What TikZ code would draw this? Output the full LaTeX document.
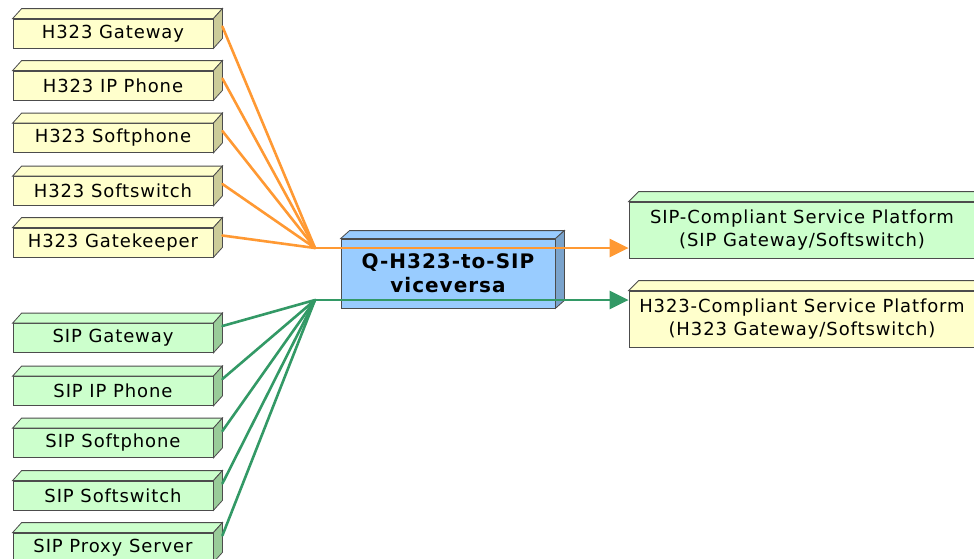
\documentclass[tikz,border=0pt]{standalone}
\usepackage{fontspec}
\setmainfont[LetterSpace=5]{DejaVu Sans}
\usetikzlibrary{arrows.meta, positioning, calc}

\definecolor{ylwface}{HTML}{FFFFCC}
\definecolor{ylwside}{HTML}{CCCC99}
\definecolor{grnface}{HTML}{CCFFCC}
\definecolor{grnside}{HTML}{99CC99}
\definecolor{bluface}{HTML}{99CCFF}
\definecolor{bluside}{HTML}{7AA3CC}
\definecolor{h323line}{HTML}{FF9933}
\definecolor{sipline}{HTML}{339966}

% top and side faces of a box node: node, depth, front colour, side colour
\newcommand{\boxfaces}[4]{%
  \draw [edgeline, fill=#3] (#1.north west) -- ++#2 -- ($(#1.north east)+#2$) -- (#1.north east) -- cycle;
  \draw [edgeline, fill=#4] (#1.north east) -- ++#2 -- ($(#1.south east)+#2$) -- (#1.south east) -- cycle;
}

\begin{document}
\begin{tikzpicture}[x=1pt, y=-1pt,
    edgeline/.style={draw=black!70, line width=0.8pt},
    frontbox/.style={edgeline, inner sep=0pt, align=center, font=\fontsize{18}{23}\selectfont},
    endbox/.style={frontbox, minimum width=200pt, minimum height=29pt},
    platbox/.style={frontbox, minimum width=346pt, minimum height=56pt},
    h323link/.style={h323line, line width=2.6pt, line cap=round, line join=round},
    siplink/.style={sipline, line width=2.6pt, line cap=round, line join=round}]

    \useasboundingbox (0,0) rectangle (974,558);
    \clip (0,0) rectangle (974,558);

    % H323 end points (left, top)
    \node [endbox, fill=ylwface] (h323gw)  at (113,33.5)  {H323 Gateway};
    \node [endbox, fill=ylwface] (h323ip)  at (113,85.5)  {H323 IP Phone};
    \node [endbox, fill=ylwface] (h323sp)  at (113,138)   {H323 Softphone};
    \node [endbox, fill=ylwface] (h323ss)  at (113,191)   {H323 Softswitch};
    \node [endbox, fill=ylwface] (h323gk)  at (113,242.5) {H323 Gatekeeper};

    % SIP end points (left, bottom)
    \node [endbox, fill=grnface] (sipgw)   at (113,338)   {SIP Gateway};
    \node [endbox, fill=grnface] (sipip)   at (113,391)   {SIP IP Phone};
    \node [endbox, fill=grnface] (sipsp)   at (113,443)   {SIP Softphone};
    \node [endbox, fill=grnface] (sipss)   at (113,495.5) {SIP Softswitch};
    \node [endbox, fill=grnface] (sipps)   at (113,547.5) {SIP Proxy Server};

    \boxfaces{h323gw}{(9,-10)}{ylwface}{ylwside}
    \boxfaces{h323ip}{(9,-10)}{ylwface}{ylwside}
    \boxfaces{h323sp}{(9,-10)}{ylwface}{ylwside}
    \boxfaces{h323ss}{(9,-10)}{ylwface}{ylwside}
    \boxfaces{h323gk}{(9,-10)}{ylwface}{ylwside}
    \boxfaces{sipgw}{(9,-10)}{grnface}{grnside}
    \boxfaces{sipip}{(9,-10)}{grnface}{grnside}
    \boxfaces{sipsp}{(9,-10)}{grnface}{grnside}
    \boxfaces{sipss}{(9,-10)}{grnface}{grnside}
    \boxfaces{sipps}{(9,-10)}{grnface}{grnside}

    % Converter in the middle
    \node [frontbox, fill=bluface, minimum width=214pt, minimum height=69pt,
           font=\fontsize{20}{24}\selectfont\bfseries] (qconv) at (448,273.5) {Q-H323-to-SIP\\viceversa};
    \boxfaces{qconv}{(9,-8)}{bluface}{bluside}

    % Service platforms (right)
    \node [platbox, fill=grnface] (sipplat)  at (802,230) {SIP-Compliant Service Platform\\(SIP Gateway/Softswitch)};
    \node [platbox, fill=ylwface] (h323plat) at (802,319) {H323-Compliant Service Platform\\(H323 Gateway/Softswitch)};
    \boxfaces{sipplat}{(10,-10)}{grnface}{grnside}
    \boxfaces{h323plat}{(10,-10)}{ylwface}{ylwside}

    % Where the links meet
    \coordinate (h323join) at (315,248);
    \coordinate (sipjoin)  at (315,300);

    \draw [h323link] ([shift={(9,-7)}]h323gw.east) -- (h323join);
    \draw [h323link] ([shift={(9,-7)}]h323ip.east) -- (h323join);
    \draw [h323link] ([shift={(9,-7)}]h323sp.east) -- (h323join);
    \draw [h323link] ([shift={(9,-7)}]h323ss.east) -- (h323join);
    \draw [h323link] ([shift={(9,-7)}]h323gk.east) -- (h323join);

    \draw [siplink] ([shift={(9,-12)}]sipgw.east) -- (sipjoin);
    \draw [siplink] ([shift={(9,-12)}]sipip.east) -- (sipjoin);
    \draw [siplink] ([shift={(9,-12)}]sipsp.east) -- (sipjoin);
    \draw [siplink] ([shift={(9,-12)}]sipss.east) -- (sipjoin);
    \draw [siplink] ([shift={(9,-12)}]sipps.east) -- (sipjoin);

    % Links across the converter
    \draw [h323link, line cap=butt, -{Triangle[length=19pt, width=18pt]}] (h323join) -- (h323join -| sipplat.west);
    \draw [siplink, line cap=butt, -{Triangle[length=19pt, width=18pt]}] (sipjoin) -- (sipjoin -| h323plat.west);
\end{tikzpicture}
\end{document}
